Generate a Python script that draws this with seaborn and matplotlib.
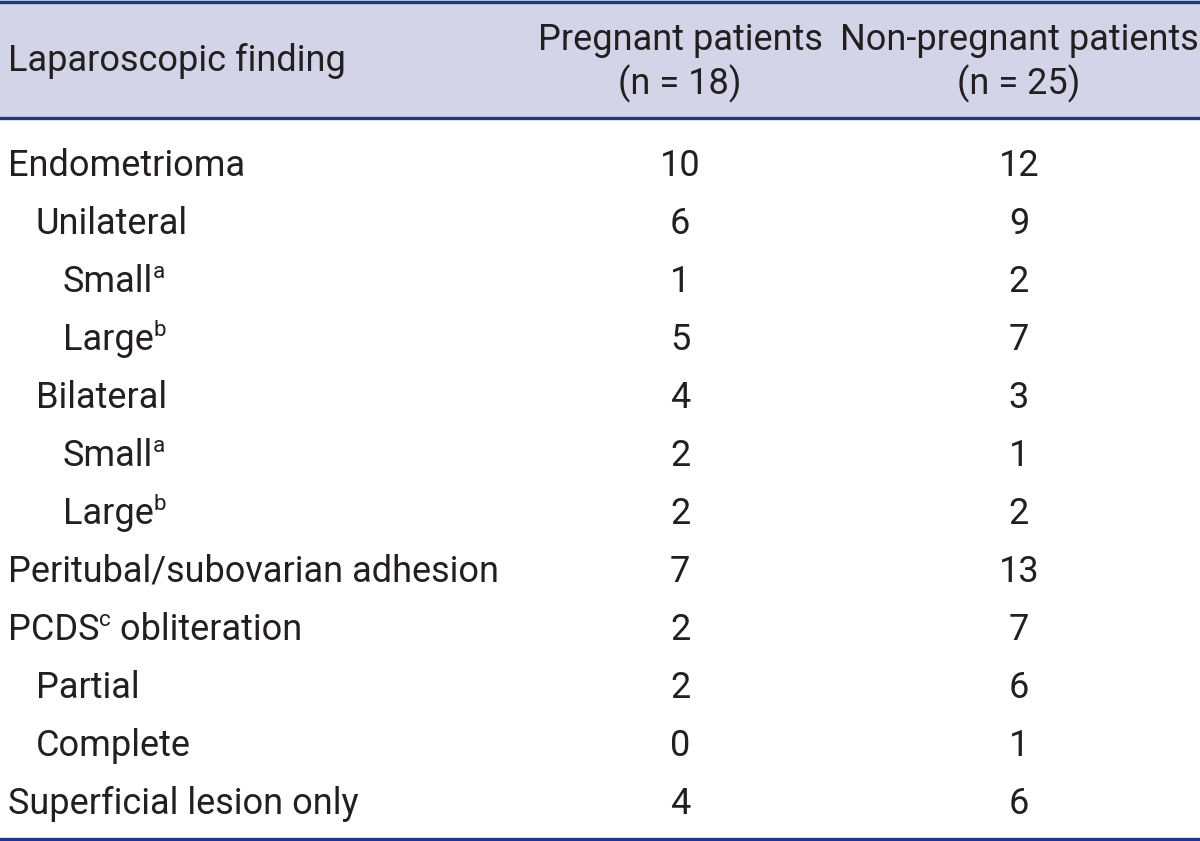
import matplotlib
matplotlib.use("Agg")
import matplotlib.pyplot as plt
import seaborn as sns
import pandas as pd

# table content
findings = ["Endometrioma", "Unilateral", "Small", "Large", "Bilateral", "Small", "Large",
            "Peritubal/subovarian adhesion", "PCDS", "Partial", "Complete",
            "Superficial lesion only"]
sups = ["", "", "a", "b", "", "a", "b", "", "c", "", "", ""]
tails = ["", "", "", "", "", "", "", "", " obliteration", "", "", ""]
levels = [0, 1, 2, 2, 1, 2, 2, 0, 0, 1, 1, 0]
pregnant = [10, 6, 1, 5, 4, 2, 2, 7, 2, 2, 0, 4]
nonpregnant = [12, 9, 2, 7, 3, 1, 2, 13, 7, 6, 1, 6]
col_titles = ["Pregnant patients", "Non-pregnant patients"]
col_ns = ["(n = 18)", "(n = 25)"]

df = pd.DataFrame({"finding": findings, "sup": sups, "tail": tails, "level": levels,
                   "pregnant": pregnant, "nonpregnant": nonpregnant})

sns.set_theme(style="white")
plt.rcParams["font.family"] = ["Roboto", "DejaVu Sans"]

fig = plt.figure(figsize=(12, 8.41), dpi=100)
ax = fig.add_axes([0, 0, 1, 1])
ax.set_xlim(0, 1200)
ax.set_ylim(841, 0)
ax.axis("off")

line_c = "#1f3a7c"
head_bg = "#d4d4e9"
txt_c = "#231f20"
fs = 26

ax.axhspan(0, 117, color=head_bg, zorder=0)
for yy in (1.5, 117.5, 839):
    ax.axhline(yy, color=line_c, lw=2.4, zorder=2)

ax.text(8, 61, "Laparoscopic finding", fontsize=fs, color=txt_c, va="center", ha="left")
col_x = [680, 1019]
for cx, t, n in zip(col_x, col_titles, col_ns):
    ax.text(cx, 40, t, fontsize=fs, color=txt_c, va="center", ha="center")
    ax.text(cx, 84, n, fontsize=fs, color=txt_c, va="center", ha="center")

fig.canvas.draw()
renderer = fig.canvas.get_renderer()
inv = ax.transData.inverted()

indent = [8, 36, 63]
for i, row in df.iterrows():
    y = 176 + 58 * i
    t = ax.text(indent[row["level"]], y, row["finding"], fontsize=fs, color=txt_c,
                va="baseline", ha="left")
    if row["sup"]:
        bb = t.get_window_extent(renderer)
        x_end = inv.transform((bb.x1, bb.y0))[0]
        s = ax.text(x_end, y - 14, row["sup"], fontsize=fs * 0.62, color=txt_c,
                    va="baseline", ha="left")
        if row["tail"]:
            bb2 = s.get_window_extent(renderer)
            x2 = inv.transform((bb2.x1, bb2.y0))[0]
            ax.text(x2, y, row["tail"], fontsize=fs, color=txt_c, va="baseline", ha="left")
    ax.text(col_x[0], y, str(row["pregnant"]), fontsize=fs, color=txt_c,
            va="baseline", ha="center")
    ax.text(col_x[1], y, str(row["nonpregnant"]), fontsize=fs, color=txt_c,
            va="baseline", ha="center")

fig.savefig("out.png", dpi=100)
